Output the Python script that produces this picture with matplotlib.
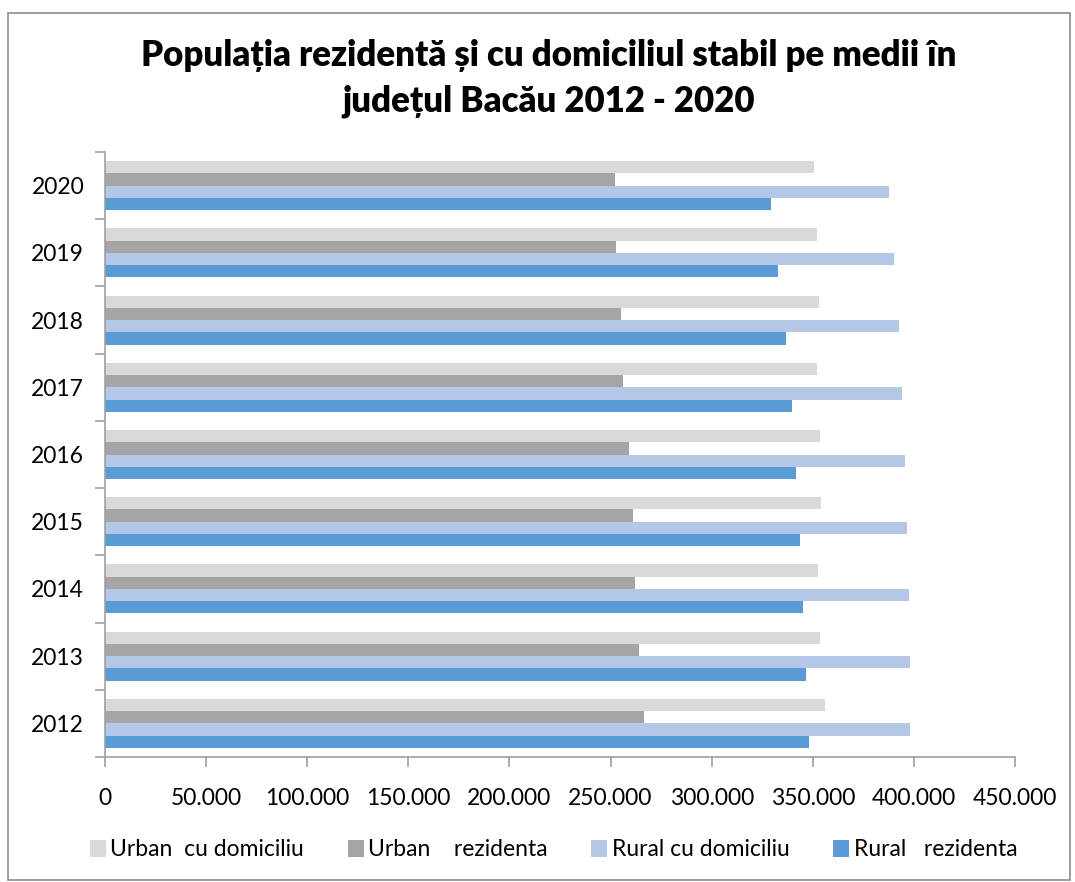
#!/usr/bin/env python3

import numpy as np
import matplotlib
matplotlib.use('Agg')

import matplotlib.pyplot as plt
from matplotlib.patches import Rectangle
from matplotlib.ticker import FuncFormatter, MultipleLocator

years = ["2012", "2013", "2014", "2015", "2016", "2017", "2018", "2019", "2020"]
urban_domiciliu = [355900, 353700, 352600, 353900, 353400, 352100, 353100, 352100, 350400]
urban_rezidenta = [266700, 264100, 261900, 261000, 259000, 256300, 255000, 252900, 252400]
rural_domiciliu = [397900, 398100, 397400, 396600, 395600, 394300, 392800, 390300, 387900]
rural_rezidenta = [348000, 346500, 345300, 343900, 341900, 339700, 336600, 332800, 329300]

labels = ["Urban  cu domiciliu", "Urban    rezidenta", "Rural cu domiciliu", "Rural   rezidenta"]
colors = ["#D9D9D9", "#A5A5A5", "#B4C7E7", "#5B9BD5"]

FONT = ["Lato", "DejaVu Sans"]


def thousands(v, pos):
    return "{:,.0f}".format(v).replace(",", ".")


def main():
    plt.rcParams['font.family'] = FONT
    fig = plt.figure(figsize=(10.75, 8.82), dpi=100)
    ax = fig.add_axes([105 / 1075, 1 - 757 / 882, 910 / 1075, 605 / 882])

    ind = np.arange(len(years))
    h = 0.182
    series = [urban_domiciliu, urban_rezidenta, rural_domiciliu, rural_rezidenta]
    offsets = [1.5, 0.5, -0.5, -1.5]
    handles = []
    for vals, off, col, lab in zip(series, offsets, colors, labels):
        b = ax.barh(ind + off * h, vals, h, color=col, label=lab)
        handles.append(b)

    ax.set_xlim(0, 450000)
    ax.set_ylim(-0.5, len(years) - 0.5)
    ax.xaxis.set_major_locator(MultipleLocator(50000))
    ax.xaxis.set_major_formatter(FuncFormatter(thousands))
    ax.set_yticks(ind)
    ax.set_yticklabels(years)
    ax.set_yticks(np.arange(-0.5, len(years)), minor=True)

    for s in ["top", "right"]:
        ax.spines[s].set_visible(False)
    for s in ["left", "bottom"]:
        ax.spines[s].set_color("#A0A0A0")
        ax.spines[s].set_linewidth(1.2)

    ax.tick_params(axis="y", which="major", length=0, pad=15, labelsize=16.5)
    ax.tick_params(axis="y", which="minor", length=7, color="#A0A0A0", width=1.2)
    ax.tick_params(axis="x", which="major", length=7, color="#A0A0A0", width=1.2,
                   pad=15, labelsize=16.5)

    fig.text(0.51, 1 - 56 / 882, "Populația rezidentă și cu domiciliul stabil pe medii în",
             ha="center", va="center", fontsize=25, fontweight="heavy")
    fig.text(0.51, 1 - 101 / 882, "județul Bacău 2012 - 2020",
             ha="center", va="center", fontsize=25, fontweight="heavy")

    fig.legend(handles=handles, labels=labels, loc="center", ncol=4,
               bbox_to_anchor=(0.515, 1 - 850 / 882), frameon=False, fontsize=16.5,
               handlelength=0.7, handleheight=0.7, handletextpad=0.2, columnspacing=1.9)

    fig.patches.append(Rectangle((8 / 1075, 0.002), 1062 / 1075, 1 - 13 / 882 - 0.002,
                                 transform=fig.transFigure, fill=False,
                                 edgecolor="#8C8C8C", linewidth=1.2))

    plt.savefig("out.png", dpi=100)


if __name__ == "__main__":
    main()
